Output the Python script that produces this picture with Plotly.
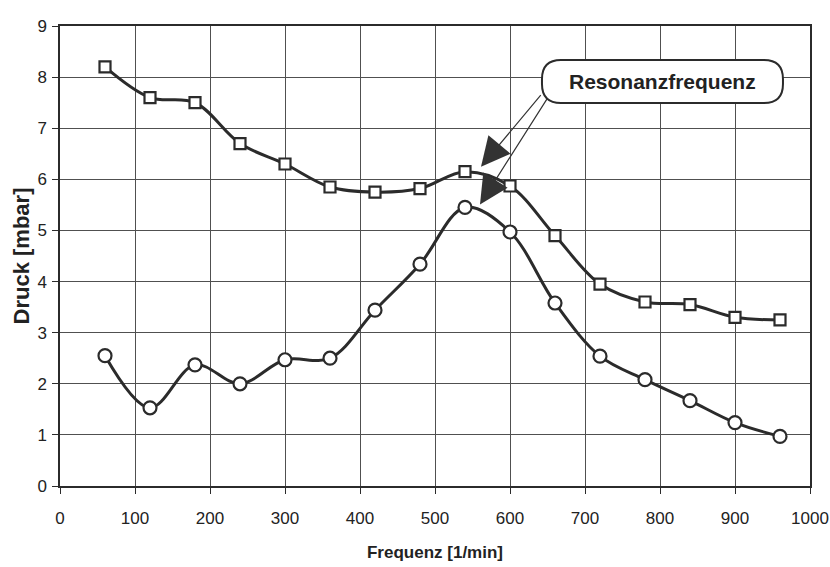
import numpy as np
import plotly.graph_objects as go

# Measurement data: pressure vs. excitation frequency
frequenz = [60, 120, 180, 240, 300, 360, 420, 480, 540, 600, 660, 720, 780, 840, 900, 960]
druck_quadrat = [8.2, 7.6, 7.5, 6.7, 6.3, 5.85, 5.75, 5.82, 6.15, 5.87, 4.9, 3.95, 3.6, 3.55, 3.3, 3.25]
druck_kreis = [2.55, 1.53, 2.37, 2.0, 2.47, 2.5, 3.44, 4.34, 5.45, 4.97, 3.58, 2.54, 2.08, 1.67, 1.24, 0.97]

x_ticks = list(range(0, 1001, 100))
y_ticks = list(range(0, 10))

INK = "#2b2b2b"
GRID = "#505050"
FONT = "Liberation Sans, Arial, sans-serif"

fig = go.Figure()

fig.add_trace(go.Scatter(
    x=frequenz, y=druck_quadrat, mode="lines+markers",
    line=dict(color=INK, width=3, shape="spline", smoothing=1.0),
    marker=dict(symbol="square", size=11, color="white", line=dict(color=INK, width=2.2)),
    showlegend=False,
))
fig.add_trace(go.Scatter(
    x=frequenz, y=druck_kreis, mode="lines+markers",
    line=dict(color=INK, width=3, shape="spline", smoothing=1.0),
    marker=dict(symbol="circle", size=13, color="white", line=dict(color=INK, width=2.2)),
    showlegend=False,
))

# Rounded label box
r = 19
w, h = 120.5, 21.5
box_path = (
    f"M {-w + r},{-h} L {w - r},{-h} Q {w},{-h} {w},{-h + r} L {w},{h - r} "
    f"Q {w},{h} {w - r},{h} L {-w + r},{h} Q {-w},{h} {-w},{h - r} "
    f"L {-w},{-h + r} Q {-w},{-h} {-w + r},{-h} Z"
)
box_x, box_y = 0.8033, 0.8793
fig.add_shape(
    type="path", path=box_path, xref="paper", yref="paper",
    xsizemode="pixel", ysizemode="pixel", xanchor=box_x, yanchor=box_y,
    fillcolor="white", line=dict(color=INK, width=2), layer="above",
)
fig.add_annotation(
    x=box_x, y=box_y, xref="paper", yref="paper", showarrow=False,
    text="<b>Resonanzfrequenz</b>", font=dict(family=FONT, size=21, color="#222"),
    xanchor="center", yanchor="middle",
)

# Arrows pointing to the resonance peak of both curves
i_peak = int(np.argmax(druck_kreis))
for yv, ax, ay, xs, ys in [
    (druck_quadrat[i_peak], 61, -73, 16, 5),
    (druck_kreis[i_peak], 68, -107, 15, 3),
]:
    fig.add_annotation(
        x=frequenz[i_peak], y=yv, xref="x", yref="y", text="",
        showarrow=True, arrowhead=2, arrowsize=4.8, arrowwidth=1.2,
        arrowcolor="#333", ax=ax, ay=ay, xshift=xs, yshift=ys,
    )

fig.update_xaxes(
    range=[0, 1000], tickvals=x_ticks, ticktext=[str(v) for v in x_ticks],
    showgrid=True, gridcolor=GRID, gridwidth=1,
    showline=True, linecolor=INK, linewidth=1.5, mirror=True,
    ticks="outside", ticklen=6, tickcolor=INK, tickwidth=1,
    tickfont=dict(family=FONT, size=17, color="#222"),
    ticklabelstandoff=10, ticklabeloverflow="allow", zeroline=False, automargin=False,
    title=dict(text="<b>Frequenz [1/min]</b>", font=dict(family=FONT, size=17, color="#222"), standoff=19),
)
fig.update_yaxes(
    range=[0, 9], tickvals=y_ticks, ticktext=[str(v) for v in y_ticks],
    showgrid=True, gridcolor=GRID, gridwidth=1,
    showline=True, linecolor=INK, linewidth=1.5, mirror=True,
    ticks="outside", ticklen=6, tickcolor=INK, tickwidth=1,
    tickfont=dict(family=FONT, size=17, color="#222"),
    ticklabelstandoff=2, zeroline=False, automargin=False,
    title=dict(text="<b>Druck [mbar]</b>", font=dict(family=FONT, size=22, color="#222"), standoff=2),
)

fig.update_layout(
    width=830, height=567,
    margin=dict(l=60, r=20, t=26, b=81),
    paper_bgcolor="white", plot_bgcolor="white",
)

fig.write_html("out.html")
